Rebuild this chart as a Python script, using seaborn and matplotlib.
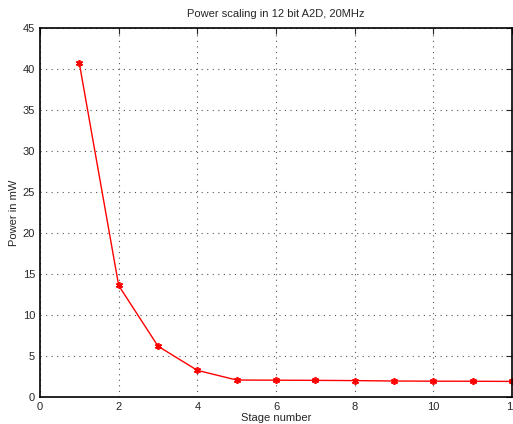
import pandas as pd
import matplotlib
matplotlib.use("Agg")
import matplotlib.pyplot as plt
import seaborn as sns

# data
stages = [1, 2, 3, 4, 5, 6, 7, 8, 9, 10, 11, 12]
power_mw = [40.7, 13.6, 6.2, 3.25, 2.07, 2.05, 2.03, 2.0, 1.95, 1.93, 1.92, 1.9]
x_ticks = [0, 2, 4, 6, 8, 10, 12]
y_ticks = [0, 5, 10, 15, 20, 25, 30, 35, 40, 45]

df = pd.DataFrame({"stage": stages, "power": power_mw})

sns.set_style("white")
plt.rcParams["font.family"] = ["Liberation Sans", "DejaVu Sans"]

fig = plt.figure(figsize=(5.13, 4.24), dpi=100)
ax = fig.add_axes([40 / 513, 27 / 424, 472 / 513, 369 / 424])

# MATLAB-style asterisk marker
sns.lineplot(data=df, x="stage", y="power", ax=ax, color="red", linewidth=1,
             marker=(6, 2, 0), markersize=5, markeredgewidth=1.2,
             markeredgecolor="red", markerfacecolor="red")

ax.set_xlim(0, 12)
ax.set_ylim(0, 45)
ax.set_xticks(x_ticks)
ax.set_yticks(y_ticks)
ax.grid(True, linestyle=(0, (1, 4)), color="#555555", linewidth=0.8)
ax.tick_params(direction="in", labelsize=8, length=4, top=True, right=True)
for s in ax.spines.values():
    s.set_visible(True)
    s.set_color("black")
    s.set_linewidth(1.2)

ax.set_title("Power scaling in 12 bit A2D, 20MHz", fontsize=8, pad=8)
ax.set_xlabel("Stage number", fontsize=8, labelpad=1)
ax.set_ylabel("Power in mW", fontsize=8, labelpad=3)

fig.savefig("out.png", dpi=100)
